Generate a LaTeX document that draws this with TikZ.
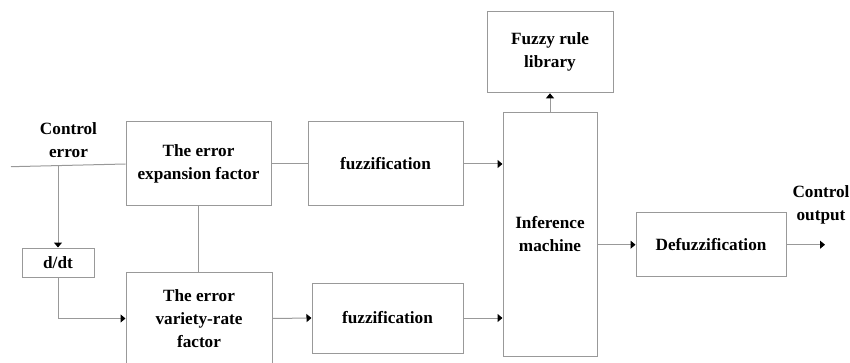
\documentclass[tikz,border=0pt]{standalone}
\usepackage{fontspec}
\setmainfont{Liberation Serif}
\usetikzlibrary{arrows.meta}
\tikzset{blk/.style={draw=black!40, line width=1pt, align=center, inner sep=0pt,
  font=\bfseries\fontsize{17.2}{23}\selectfont}}
\tikzset{lbl/.style={align=center, inner sep=0pt, font=\bfseries\fontsize{17.2}{23}\selectfont}}
\tikzset{link/.style={draw=black!40, line width=1pt}}
\tikzset{flow/.style={link, -{Triangle[length=5pt,width=8pt,color=black]}}}

\begin{document}
\begin{tikzpicture}[x=1pt,y=-1pt]
      \useasboundingbox (0,0) rectangle (850,363);

      % blocks
      \node [blk, minimum width=145pt, minimum height=84pt] (ef) at (198.5,164) {The error\\expansion factor};
      \node [blk, minimum width=146pt, minimum height=91.5pt] (vr) at (199,318.5) {The error\\variety-rate\\factor};
      \node [blk, minimum width=72pt, minimum height=29pt] (ddt) at (58,262.5) {d/dt};
      \node [blk, minimum width=155pt, minimum height=84pt] (fz1) at (385.5,164) {fuzzification};
      \node [blk, minimum width=151pt, minimum height=70pt] (fz2) at (387.5,318) {fuzzification};
      \node [blk, minimum width=94pt, minimum height=243pt] (inf) at (550,234.5) {Inference\\machine};
      \node [blk, minimum width=126pt, minimum height=81pt] (rule) at (550,52.3) {Fuzzy rule\\library};
      \node [blk, minimum width=150pt, minimum height=64pt] (defz) at (711,244.7) {Defuzzification};

      % labels
      \node [lbl] (cerr) at (68.5,140) {Control\\error};
      \node [lbl] (cout) at (821,205) {Control\\output};

      % signal path
      \coordinate (in) at (11,166.7);
      \coordinate (split) at (58,165.6);
      \coordinate (out) at (825,244.7);

      \draw [link] (in) -- (ef.west);
      \draw [flow] (split) -- (ddt.north);
      \draw [flow] (ddt.south) |- (vr.west);
      \draw [link] (ef.south) -- (ef.south |- vr.north);
      \draw [link] (ef.east) -- (fz1.west);
      \draw [flow] (vr.east) -- (fz2.west);
      \draw [flow] (fz1.east) -- (fz1.east -| inf.west);
      \draw [flow] (fz2.east) -- (fz2.east -| inf.west);
      \draw [flow] (inf.north) -- (rule.south);
      \draw [flow] (defz.west -| inf.east) -- (defz.west);
      \draw [flow] (defz.east) -- (out);
    \end{tikzpicture}
\end{document}
